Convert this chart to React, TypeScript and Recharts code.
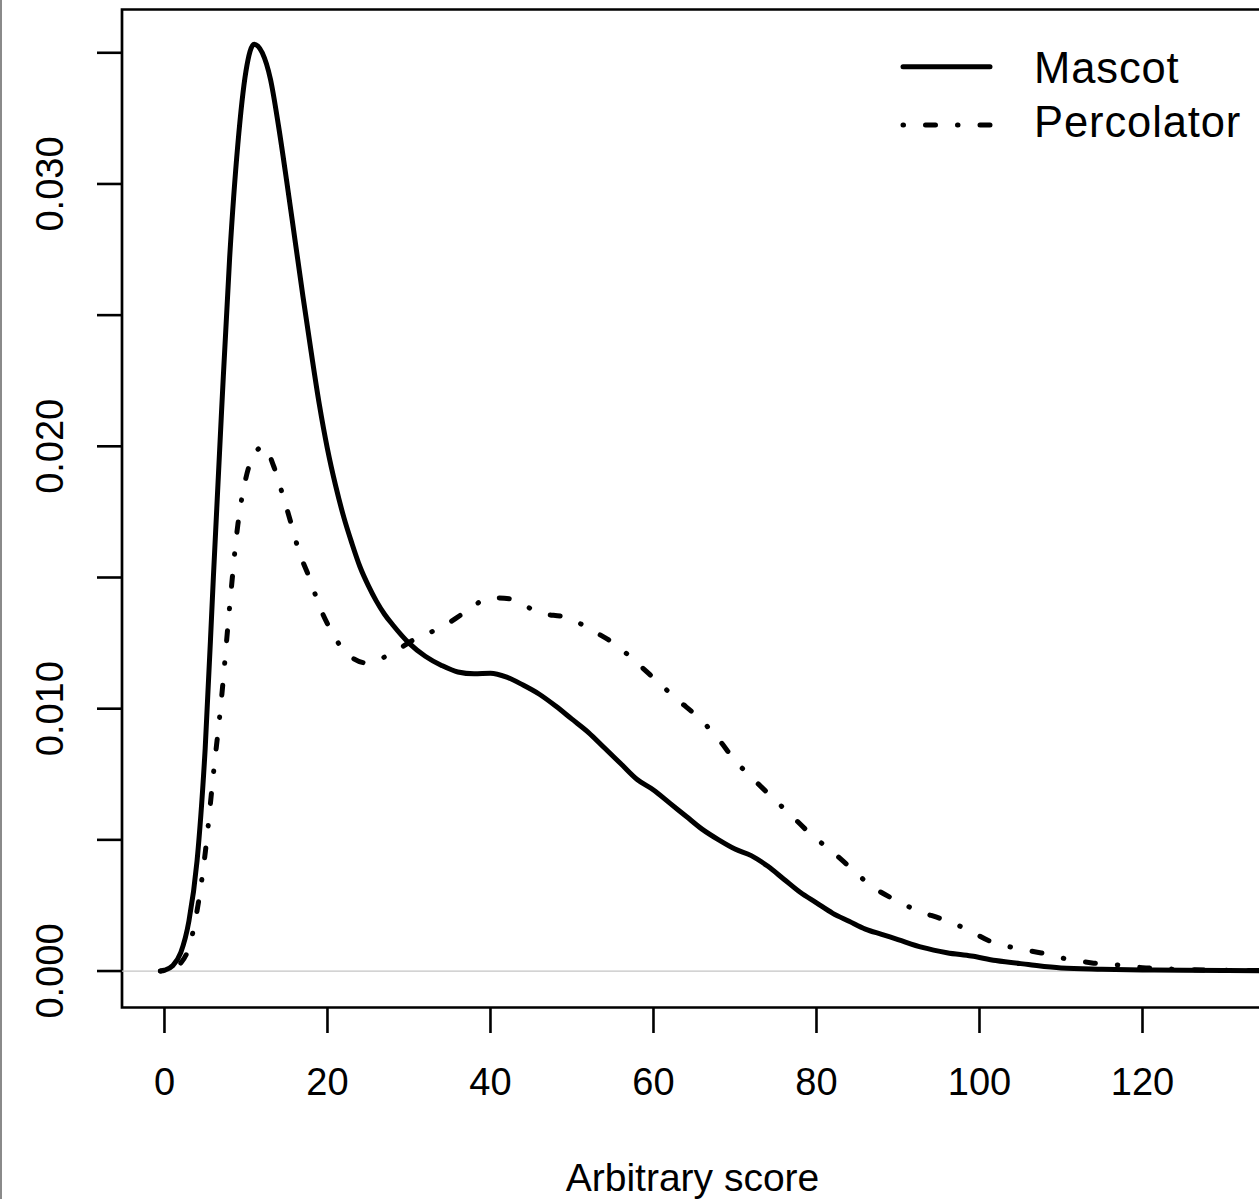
import React from "react";
import {
  LineChart,
  Line,
  XAxis,
  YAxis,
  ReferenceLine,
  ReferenceArea,
  Legend,
} from "recharts";

// ---- data ----
const mascotX = [
  -0.5, 0, 1, 2, 3, 4, 5, 6, 7, 8, 9, 10, 11, 12, 13, 14, 15, 16, 17, 18, 19, 20,
  21, 22, 23, 24, 25, 26, 27, 28, 30, 32, 34, 36, 38, 40, 42, 44, 46, 48, 50, 52,
  54, 56, 58, 60, 62, 64, 66, 68, 70, 72, 74, 76, 78, 80, 82, 84, 86, 88, 90, 93,
  96, 99, 102, 106, 110, 115, 120, 125, 130, 135, 140,
];
const mascotY = [
  0, 0.00003, 0.0002, 0.0007, 0.0019, 0.0042, 0.0085, 0.015, 0.0213, 0.0272, 0.0315,
  0.0343, 0.03533, 0.035, 0.034, 0.0322, 0.0301, 0.0279, 0.0257, 0.0236, 0.0216,
  0.0199, 0.0185, 0.0173, 0.0163, 0.0154, 0.0147, 0.0141, 0.0136, 0.0132, 0.0125,
  0.012, 0.01165, 0.0114, 0.01133, 0.01135, 0.0112, 0.0109, 0.01055, 0.0101, 0.0096,
  0.0091, 0.0085, 0.0079, 0.0073, 0.0069, 0.0064, 0.0059, 0.0054, 0.005, 0.00465,
  0.0044, 0.004, 0.0035, 0.003, 0.0026, 0.0022, 0.0019, 0.0016, 0.0014, 0.0012,
  0.0009, 0.0007, 0.00057, 0.0004, 0.00025, 0.00012, 0.00007, 0.00004, 0.00003,
  0.00002, 0.00001, 0.000005,
];
const percolatorX = [
  -0.5, 0, 1, 2, 3, 4, 5, 6, 7, 8, 9, 10, 11, 12.2, 13.4, 14.6, 15.5, 16.5, 17.9,
  18.9, 20.4, 22.2, 24.9, 28.1, 31, 34, 37, 40, 42.5, 46, 49.5, 52.6, 55.4, 58,
  60.6, 63, 65.6, 68, 70, 72.4, 74.8, 77.3, 79.5, 81.8, 84.3, 86.7, 89.4, 92.5,
  95.3, 98.4, 101.2, 104.3, 107.6, 110.7, 113.8, 117, 120, 123, 126.4, 130, 135, 140,
];
const percolatorY = [
  0, 0.00002, 0.0001, 0.0003, 0.0009, 0.0023, 0.0045, 0.0075, 0.0104, 0.0139, 0.017,
  0.0188, 0.0197, 0.02, 0.01924, 0.01805, 0.0171, 0.016, 0.0149, 0.014, 0.013,
  0.01216, 0.01174, 0.01216, 0.0127, 0.0131, 0.0137, 0.01423, 0.01418, 0.01365,
  0.01346, 0.01296, 0.01243, 0.01174, 0.011, 0.01033, 0.00964, 0.00883, 0.00803,
  0.00727, 0.00655, 0.00581, 0.00516, 0.00459, 0.0039, 0.00325, 0.00275, 0.00229,
  0.00199, 0.0016, 0.00115, 0.00088, 0.00069, 0.00046, 0.00031, 0.00023, 0.00013,
  0.00008, 0.00005, 0.00003, 0.00002, 0.00001,
];
const seriesNames = ["Mascot", "Percolator"];
const xTicks = [0, 20, 40, 60, 80, 100, 120];
const yTicks = [0, 0.005, 0.01, 0.015, 0.02, 0.025, 0.03, 0.035];
const yTickLabels = ["0.000", "", "0.010", "", "0.020", "", "0.030", ""];
const xLabel = "Arbitrary score";

// ---- layout / style ----
const X_MIN = -5.21;
const X_MAX = 140;
const Y_MIN = -0.00139;
const Y_MAX = 0.03665;
const FONT = "'Liberation Sans', Arial, Helvetica, sans-serif";
const FS = 38;
const DOTDASH = "0.5 22 10 22";

const mascotData = mascotX.map((x, i) => ({ x, y: mascotY[i] }));
const percolatorData = percolatorX.map((x, i) => ({ x, y: percolatorY[i] }));
const seriesData = [mascotData, percolatorData];
const seriesDash = [undefined, DOTDASH];

const XTick = (props: any) => {
  const { x, y, payload } = props;
  return (
    <text
      x={x}
      y={y}
      dy="0.71em"
      textAnchor="middle"
      fontFamily={FONT}
      fontSize={FS}
      fill="#000"
    >
      {String(payload.value)}
    </text>
  );
};

const YTick = (props: any) => {
  const { x, y, index } = props;
  const label = yTickLabels[index] ?? "";
  if (!label) return <g />;
  return (
    <text
      x={x}
      y={y}
      transform={`rotate(-90, ${x}, ${y})`}
      textAnchor="middle"
      fontFamily={FONT}
      fontSize={FS}
      fill="#000"
    >
      {label}
    </text>
  );
};

const LegendContent = () => {
  const rows = [66.7, 125];
  const baselines = [83, 137];
  return (
    <svg width={1310} height={200} style={{ display: "block" }}>
      {seriesNames.map((name, i) => (
        <g key={name}>
          <line
            x1={903}
            x2={990}
            y1={rows[i]}
            y2={rows[i]}
            stroke="#000"
            strokeWidth={5}
            strokeLinecap="round"
            strokeDasharray={seriesDash[i]}
          />
          <text
            x={1034}
            y={baselines[i]}
            fontFamily={FONT}
            fontSize={43.5}
            letterSpacing={0.9}
            fill="#000"
          >
            {name}
          </text>
        </g>
      ))}
    </svg>
  );
};

export default function App() {
  return (
    <div
      style={{
        position: "absolute",
        left: 0,
        top: 0,
        width: 1259,
        height: 1199,
        overflow: "hidden",
        background: "#fff",
      }}
    >
      <div
        style={{
          position: "absolute",
          left: 0,
          top: 0,
          width: 2,
          height: 1199,
          background: "#8a8a8a",
          zIndex: 2,
        }}
      />
      <LineChart
        width={1310}
        height={1199}
        margin={{ top: 9.5, right: 4.5, bottom: 0, left: 0 }}
      >
        <XAxis
          type="number"
          dataKey="x"
          domain={[X_MIN, X_MAX]}
          allowDataOverflow
          ticks={xTicks}
          interval={0}
          height={191.5}
          axisLine={false}
          tickSize={25.5}
          tickMargin={35}
          tickLine={{ stroke: "#000", strokeWidth: 2.6 }}
          tick={<XTick />}
          label={{
            value: xLabel,
            position: "insideBottom",
            offset: 0,
            content: () => (
              <text
                x={692.5}
                y={1191}
                textAnchor="middle"
                fontFamily={FONT}
                fontSize={39}
                fill="#000"
              >
                {xLabel}
              </text>
            ),
          }}
        />
        <YAxis
          type="number"
          dataKey="y"
          domain={[Y_MIN, Y_MAX]}
          allowDataOverflow
          ticks={yTicks}
          interval={0}
          width={122}
          axisLine={false}
          tickSize={25}
          tickMargin={34}
          tickLine={{ stroke: "#000", strokeWidth: 2.6 }}
          tick={<YTick />}
        />
        <ReferenceLine y={0} stroke="#c4c4c4" strokeWidth={1.3} ifOverflow="visible" />
        <ReferenceArea
          x1={X_MIN}
          x2={X_MAX}
          y1={Y_MIN}
          y2={Y_MAX}
          fill="none"
          fillOpacity={0}
          stroke="#000"
          strokeWidth={2.7}
          ifOverflow="visible"
        />
        {seriesNames.map((name, i) => (
          <Line
            key={name}
            name={name}
            data={seriesData[i]}
            dataKey="y"
            type="monotone"
            stroke="#000"
            strokeWidth={5}
            strokeLinecap="round"
            strokeDasharray={seriesDash[i]}
            dot={false}
            activeDot={false}
            isAnimationActive={false}
          />
        ))}
        <Legend
          layout="vertical"
          align="center"
          verticalAlign="middle"
          wrapperStyle={{ position: "absolute", left: 0, top: 0, width: 1310, height: 200 }}
          content={<LegendContent />}
        />
      </LineChart>
    </div>
  );
}
